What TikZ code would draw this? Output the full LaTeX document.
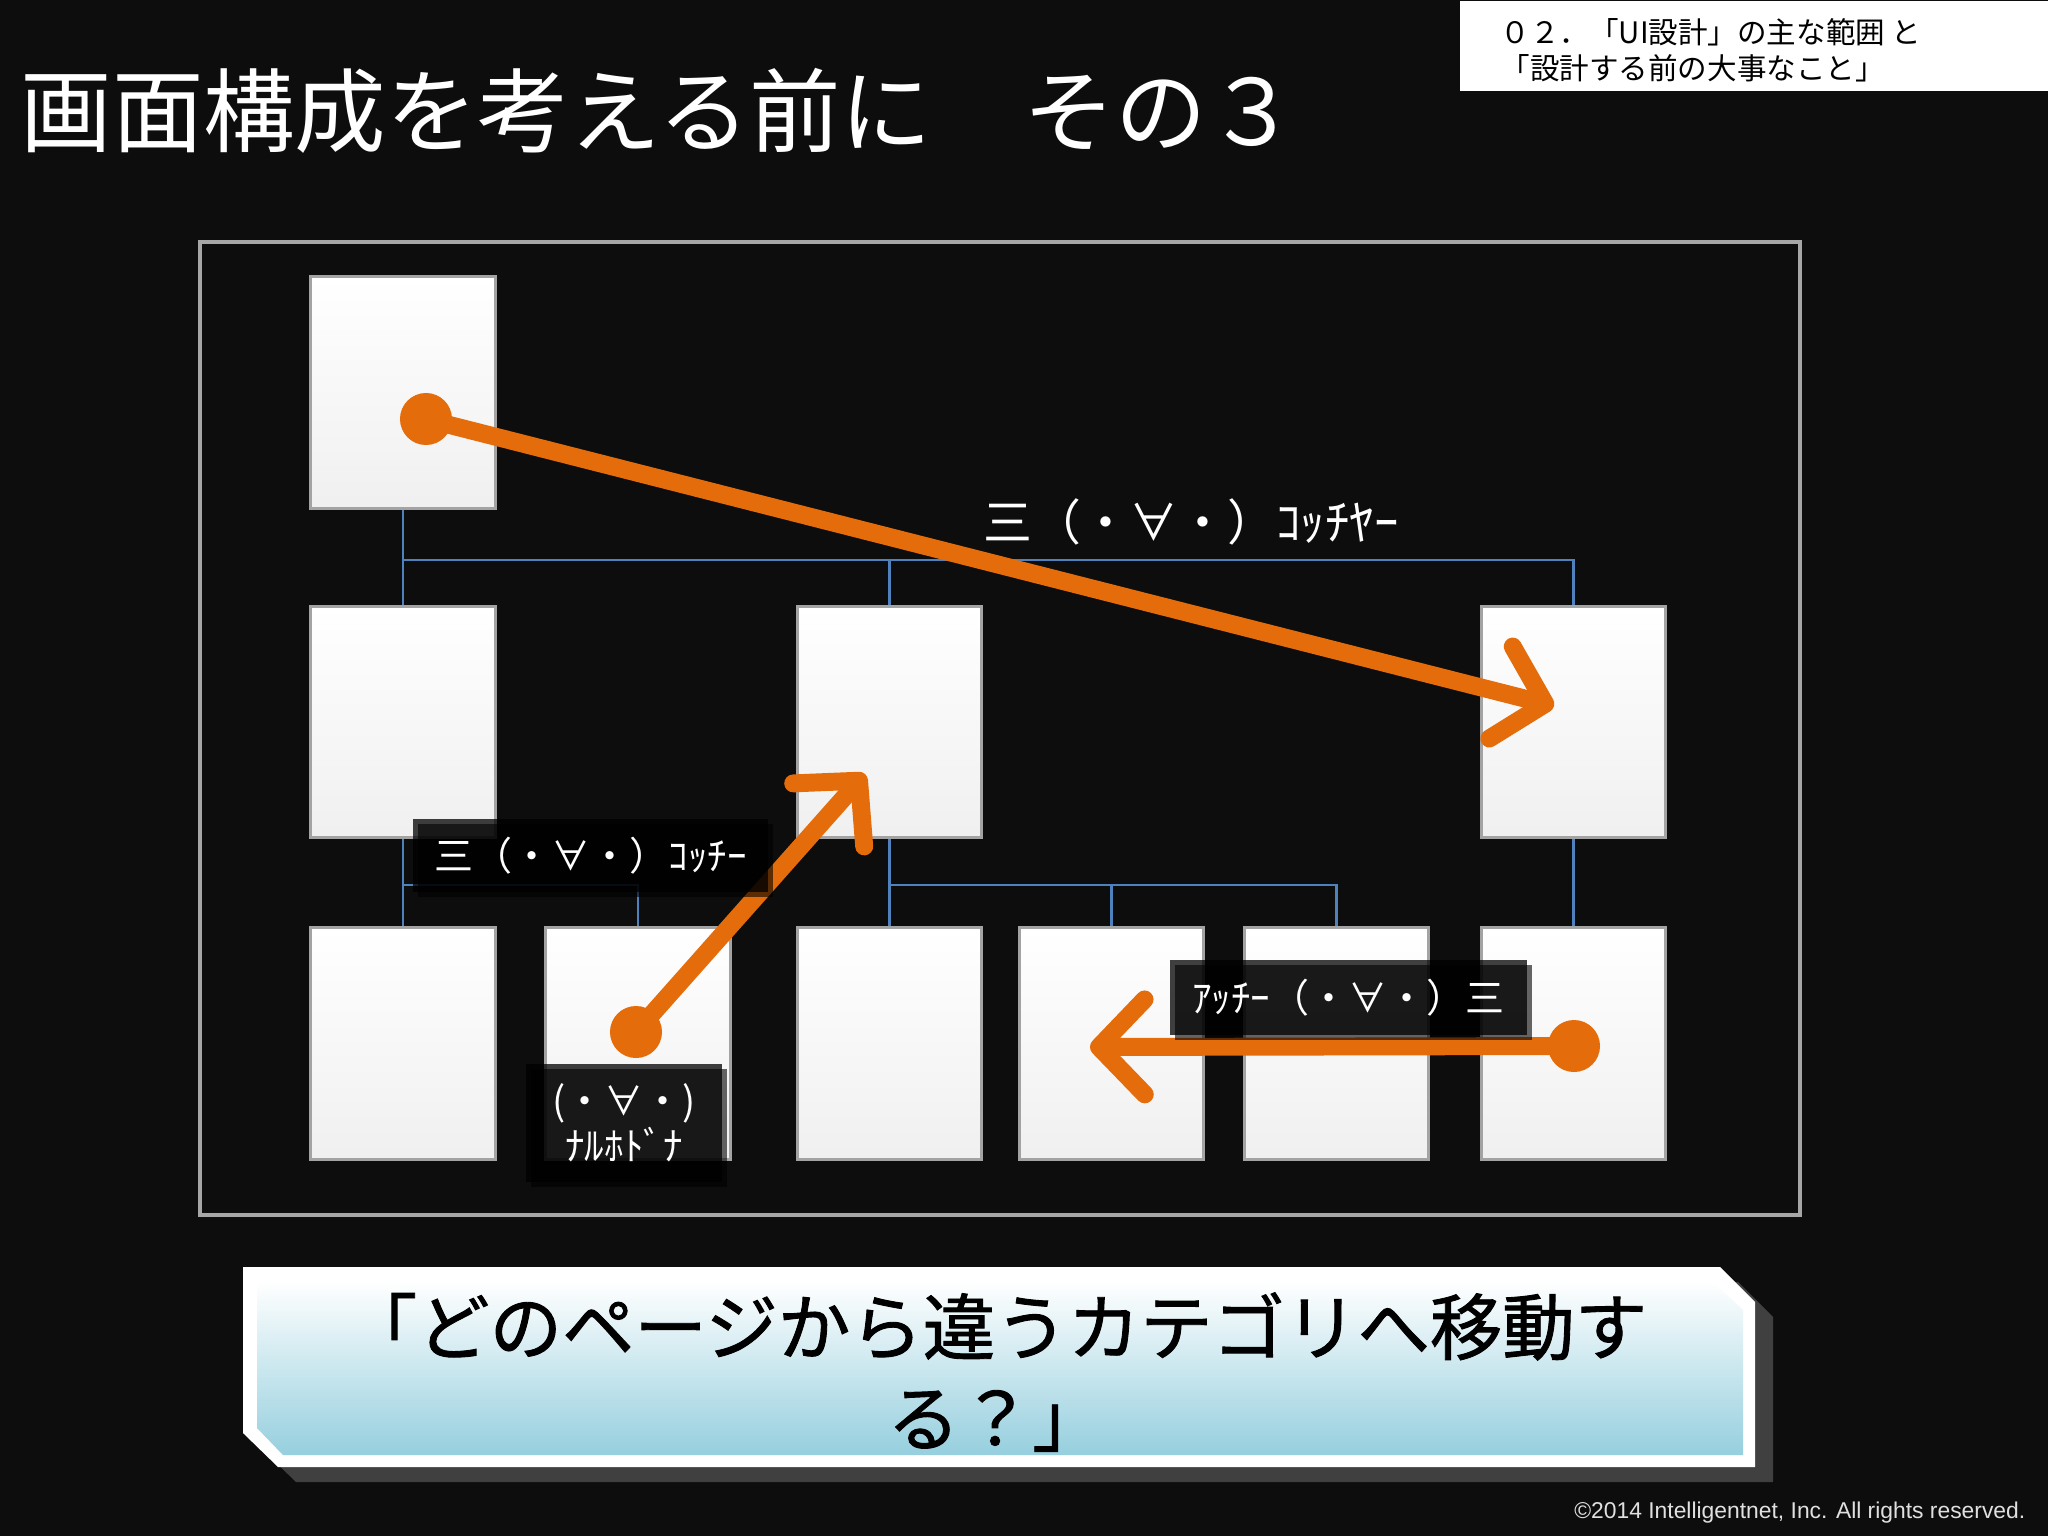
\documentclass[tikz,border=0pt]{standalone}
\usepackage{fontspec}
\setmainfont{Noto Sans CJK JP}
\newfontfamily\askfont{Noto Sans CJK JP}[FakeBold=1.2]
\newfontfamily\copyfont{Liberation Sans}
\usetikzlibrary{arrows.meta, shadows}

\definecolor{slideblack}{HTML}{0D0D0D}
\definecolor{moveorange}{HTML}{E46C0A}
\definecolor{linkblue}{HTML}{4F81BD}
\definecolor{framegray}{HTML}{A6A6A6}
\definecolor{pagegray}{HTML}{A3A3A3}
\definecolor{bannerblue}{HTML}{96CFDE}
\definecolor{bannershadow}{HTML}{404040}

\begin{document}
\begin{tikzpicture}[x=0.01cm,y=-0.01cm,
  page/.style={rectangle,draw=pagegray,line width=0.85pt,inner sep=0pt,
    minimum width=1.84cm,minimum height=2.31cm,top color=white,bottom color=black!6},
  link/.style={draw=linkblue,line width=0.6pt},
  move/.style={draw=moveorange,line width=5.1pt,
    -{Straight Barb[length=13pt,width=27pt,round]}},
  dot/.style={circle,fill=moveorange,inner sep=0pt,minimum size=0.52cm},
  say box/.style={rectangle,fill=black,fill opacity=0.75,text opacity=1,text=white,
    inner sep=0pt,drop shadow={shadow xshift=1.5pt,shadow yshift=-1.5pt,fill=black,opacity=0.6}}]

    \useasboundingbox (0,0) rectangle (2048,1536);
    \fill[slideblack] (0,0) rectangle (2048,1536);

    \node[anchor=base west,inner sep=0pt,text=white,
      font=\fontsize{26pt}{30pt}\selectfont] (title) at (20,145) {画面構成を考える前に　その３};

    \node[fill=white,anchor=north west,inner sep=0pt,
      minimum width=5.89cm,minimum height=0.9cm] (hdr) at (1459,0) {};
    \node[anchor=west,align=left,inner sep=0pt,
      font=\fontsize{8.4pt}{10.2pt}\selectfont] (hdrtext) at (1500,50)
      {０２．「UI設計」の主な範囲 と\\「設計する前の大事なこと」};

    \draw[framegray,line width=1.4pt] (200,242) rectangle (1800,1215);

    \node[page] (top) at (403,392.5) {};

    \node[page] (a1) at (403,722) {};
    \node[page] (a2) at (889.5,722) {};
    \node[page] (a3) at (1573.5,722) {};

    \node[page] (b1) at (403,1043.5) {};
    \node[page] (b2) at (638,1043.5) {};
    \node[page] (b3) at (889.5,1043.5) {};
    \node[page] (b4) at (1111.5,1043.5) {};
    \node[page] (b5) at (1336.5,1043.5) {};
    \node[page] (b6) at (1573.5,1043.5) {};

    \foreach \c in {a1,a2,a3}
        \draw[link] (top.south) -- ++(0,50) -| (\c.north);
    \foreach \c in {b1,b2}
        \draw[link] (a1.south) -- ++(0,46) -| (\c.north);
    \foreach \c in {b3,b4,b5}
        \draw[link] (a2.south) -- ++(0,46) -| (\c.north);
    \draw[link] (a3.south) -- (b6.north);

    \node[dot] (d1) at (426,419) {};
    \coordinate (t1) at (1554,706);
    \draw[move] (d1.center) -- (t1);

    \node[dot] (d2) at (636,1032) {};
    \coordinate (t2) at (865,774);
    \draw[move] (d2.center) -- (t2);

    \node[dot] (d3) at (1574,1046) {};
    \coordinate (t3) at (1090,1047);
    \draw[move] (d3.center) -- (t3);

    \node[text=white,inner sep=0pt,font=\fontsize{13.9pt}{16pt}\selectfont]
      (far) at (1191,522) {三（・∀・）ｺｯﾁﾔｰ};

    \node[say box,minimum width=3.55cm,minimum height=0.73cm,
      font=\fontsize{11.1pt}{13pt}\selectfont] (here) at (590.5,855.5) {三（・∀・）ｺｯﾁｰ};

    \node[say box,minimum width=3.57cm,minimum height=0.75cm,
      font=\fontsize{11.1pt}{13pt}\selectfont] (there) at (1348.5,997.5) {ｱｯﾁｰ（・∀・）三};

    \node[say box,minimum width=1.96cm,minimum height=1.18cm,align=center,
      font=\fontsize{11.1pt}{12.8pt}\selectfont] (aha) at (624,1123) {(・∀・)\\ﾅﾙﾎﾄﾞﾅ};

    \fill[bannershadow] (261,1282) -- (1738,1282) -- (1773,1317) -- (1773,1482)
      -- (296,1482) -- (261,1448) -- cycle;
    \fill[white] (243,1267) -- (1720,1267) -- (1755,1302) -- (1755,1467)
      -- (278,1467) -- (243,1433) -- cycle;
    \shade[top color=white,bottom color=bannerblue] (257,1281) -- (1712,1281)
      -- (1743,1310) -- (1743,1455) -- (283,1455) -- (257,1428) -- cycle;

    \node[align=center,inner sep=0pt,font=\askfont\fontsize{20.6pt}{25.9pt}\selectfont]
      (ask) at (996,1372) {「どのページから違うカテゴリへ移動す\\る？」};

    \node[anchor=east,inner sep=0pt,text=white!88!black,
      font=\copyfont\fontsize{6.5pt}{8pt}\selectfont] (copy) at (2026,1513)
      {©2014 Intelligentnet, Inc. All rights reserved.};
\end{tikzpicture}
\end{document}
